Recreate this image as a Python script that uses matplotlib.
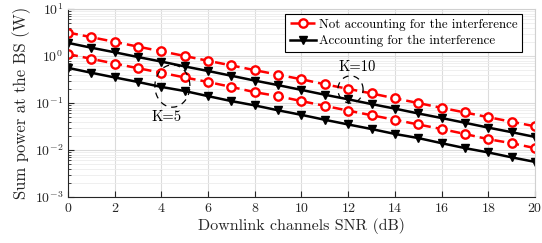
import numpy as np
import matplotlib
matplotlib.use("Agg")
import matplotlib.pyplot as plt
from matplotlib.ticker import LogLocator, MultipleLocator

plt.rcParams["font.family"] = ["cmr10", "DejaVu Serif"]
plt.rcParams["mathtext.fontset"] = "cm"
plt.rcParams["axes.formatter.use_mathtext"] = True

snr_db = list(range(0, 21))

# K=10
not_acc_k10 = [3.16, 2.51, 2.0, 1.58, 1.26, 1.0, 0.79, 0.63, 0.5, 0.4, 0.32,
               0.25, 0.2, 0.16, 0.126, 0.1, 0.079, 0.063, 0.05, 0.04, 0.032]
acc_k10 = [1.9, 1.5, 1.2, 0.95, 0.76, 0.6, 0.48, 0.38, 0.3, 0.24, 0.19,
           0.15, 0.12, 0.095, 0.076, 0.06, 0.048, 0.038, 0.03, 0.024, 0.019]
# K=5
not_acc_k5 = [1.1, 0.87, 0.69, 0.55, 0.44, 0.35, 0.28, 0.22, 0.17, 0.14, 0.11,
              0.087, 0.069, 0.055, 0.044, 0.035, 0.028, 0.022, 0.017, 0.014, 0.011]
acc_k5 = [0.56, 0.44, 0.35, 0.28, 0.22, 0.18, 0.14, 0.11, 0.089, 0.07, 0.056,
          0.044, 0.035, 0.028, 0.022, 0.018, 0.014, 0.011, 0.0089, 0.007, 0.0056]

labels = ["Not accounting for the interference", "Accounting for the interference"]

fig = plt.figure(figsize=(5.42, 2.43), dpi=100)
ax = fig.add_axes([0.1255, 0.189, 0.8615, 0.774])

red_style = dict(color="#ff0000", ls=(0, (4, 2)), lw=1.8, marker="o", ms=6,
                 mfc="white", mec="#ff0000", mew=1.7)
black_style = dict(color="black", ls="-", lw=1.8, marker="v", ms=6, mfc="black", mec="black")

ax.plot(snr_db, not_acc_k10, label=labels[0], **red_style)
ax.plot(snr_db, acc_k10, label=labels[1], **black_style)
ax.plot(snr_db, not_acc_k5, **red_style)
ax.plot(snr_db, acc_k5, **black_style)

# dashed ellipses marking the two K groups (centre dB, centre W, half width dB, half height decades)
t = np.linspace(0, 2 * np.pi, 200)
for xc, yc, a, b in [(4.47, 0.23, 0.75, 0.45), (12.1, 0.194, 0.54, 0.29)]:
    ax.plot(xc + a * np.cos(t), 10 ** (np.log10(yc) + b * np.sin(t)),
            color="black", ls=(0, (5, 4)), lw=0.9)
ax.text(4.2, 0.05, "K=5", ha="center", va="center", fontsize=10.5)
ax.text(12.4, 0.58, "K=10", ha="center", va="center", fontsize=10.5)

ax.set_yscale("log")
ax.set_xlim(0, 20)
ax.set_ylim(1e-3, 1e1)
ax.xaxis.set_major_locator(MultipleLocator(2))
ax.yaxis.set_major_locator(LogLocator(base=10, numticks=10))
ax.yaxis.set_minor_locator(LogLocator(base=10, subs=np.arange(2, 10), numticks=20))

ax.grid(True, which="major", color="#dcdcdc", lw=0.8)
ax.grid(True, which="minor", axis="y", color="#ececec", lw=0.6)
ax.set_axisbelow(True)
ax.tick_params(direction="in", which="both", labelsize=10, colors="#262626",
               top=False, right=False)
ax.tick_params(which="major", length=4)
ax.tick_params(which="minor", length=2)
for side in ["left", "bottom"]:
    ax.spines[side].set_color("#262626")
for side in ["top", "right"]:
    ax.spines[side].set_color("#d0d0d0")

ax.set_xlabel("Downlink channels SNR (dB)", fontsize=11.5, color="#262626", labelpad=2)
ax.set_ylabel("Sum power at the BS (W)", fontsize=12, color="#262626", labelpad=3)

leg = ax.legend(loc="upper right", fontsize=9.3, frameon=True, fancybox=False,
                edgecolor="black", framealpha=1, borderpad=0.35, labelspacing=0.35,
                handlelength=2.0, handletextpad=0.25, borderaxespad=0,
                bbox_to_anchor=(0.972, 0.973))
leg.get_frame().set_linewidth(0.8)

fig.savefig("out.png", dpi=100)
